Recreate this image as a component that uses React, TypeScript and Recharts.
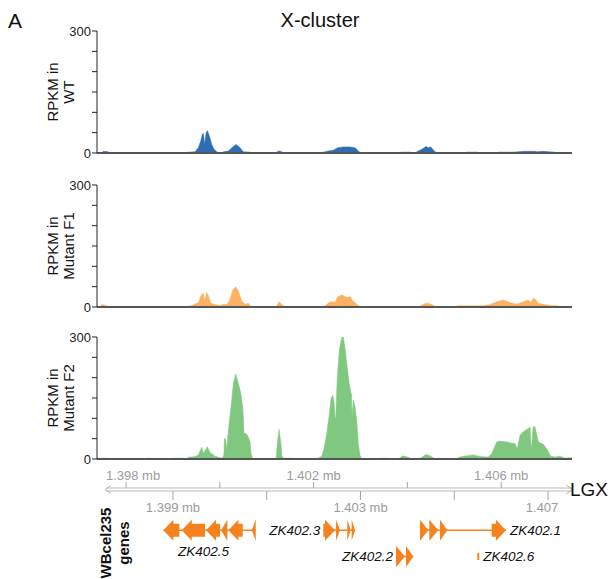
import React from 'react';
import {
  AreaChart,
  Area,
  ComposedChart,
  XAxis,
  YAxis,
  ReferenceLine,
  ReferenceArea,
  ReferenceDot,
} from 'recharts';

const FONT = '"Liberation Sans", Arial, Helvetica, sans-serif';

// visible window on chr X, in kb
const viewRange: [number, number] = [1397.38, 1407.51];
const rpkmTicks = [0, 50, 100, 150, 200, 250, 300];

// [position kb, RPKM]
const wtCoverage: [number, number][] = [
  [1397.38, 0], [1397.499, 0], [1397.51, 4], [1397.616, 3], [1397.659, 0],
  [1399.301, 0], [1399.307, 2], [1399.471, 3], [1399.542, 13], [1399.593, 30], [1399.627, 46], [1399.648, 48],
  [1399.678, 21], [1399.706, 50], [1399.734, 55], [1399.776, 42], [1399.827, 21], [1399.876, 9], [1399.934, 3], [1399.989, 0],
  [1400.058, 0], [1400.075, 3], [1400.181, 5], [1400.275, 15], [1400.345, 21], [1400.416, 15], [1400.501, 3], [1400.644, 2], [1400.655, 0],
  [1401.209, 0], [1401.22, 3], [1401.269, 5], [1401.341, 2], [1401.358, 0],
  [1402.194, 0], [1402.2, 2], [1402.313, 5], [1402.42, 7], [1402.514, 13], [1402.633, 15], [1402.776, 15], [1402.883, 13], [1402.953, 5], [1403.004, 0],
  [1403.853, 0], [1403.857, 2], [1404.07, 2], [1404.087, 0],
  [1404.194, 0], [1404.198, 3], [1404.305, 9], [1404.397, 16], [1404.446, 13], [1404.497, 15], [1404.589, 3], [1404.646, 0],
  [1405.239, 0], [1405.249, 2], [1405.505, 2], [1405.516, 0],
  [1405.921, 0], [1405.932, 2], [1406.23, 2], [1406.507, 4], [1406.721, 4], [1406.763, 3], [1406.891, 4], [1407.147, 2], [1407.157, 0],
  [1407.51, 0],
];

const f1Coverage: [number, number][] = [
  [1397.38, 0], [1397.446, 0], [1397.482, 6], [1397.531, 5], [1397.588, 3], [1397.606, 0],
  [1399.294, 0], [1399.435, 5], [1399.542, 11], [1399.614, 32], [1399.648, 33], [1399.678, 15], [1399.721, 36], [1399.755, 28],
  [1399.806, 9], [1399.898, 6], [1400.004, 3], [1400.075, 7], [1400.147, 6], [1400.203, 15], [1400.275, 41], [1400.339, 50],
  [1400.394, 40], [1400.467, 15], [1400.537, 7], [1400.608, 9], [1400.659, 1], [1400.676, 0],
  [1401.198, 0], [1401.262, 13], [1401.32, 7], [1401.375, 0],
  [1402.136, 0], [1402.243, 3], [1402.35, 13], [1402.456, 12], [1402.505, 24], [1402.599, 30], [1402.67, 25], [1402.74, 24],
  [1402.791, 25], [1402.834, 15], [1402.883, 11], [1402.953, 3], [1403.004, 0],
  [1404.233, 0], [1404.339, 7], [1404.425, 10], [1404.518, 6], [1404.625, 0],
  [1405.057, 0], [1405.064, 3], [1405.618, 3], [1405.761, 6], [1405.904, 13], [1406.045, 17], [1406.188, 11], [1406.331, 7],
  [1406.471, 13], [1406.578, 17], [1406.635, 11], [1406.684, 22], [1406.742, 17], [1406.791, 9], [1406.934, 6], [1407.077, 3],
  [1407.218, 3], [1407.233, 0],
  [1407.51, 0],
];

const f2Coverage: [number, number][] = [
  [1397.38, 0], [1397.446, 0], [1397.482, 2], [1397.623, 2], [1397.648, 0],
  [1398.416, 0], [1398.426, 2], [1398.548, 2], [1398.565, 0],
  [1398.981, 0], [1399.002, 2], [1399.209, 2], [1399.237, 0],
  [1399.294, 0], [1399.322, 4], [1399.471, 6], [1399.542, 10], [1399.614, 29], [1399.648, 14], [1399.734, 30], [1399.791, 16],
  [1399.898, 7], [1400.004, 3], [1400.055, 2], [1400.085, 10], [1400.1, 51], [1400.128, 47], [1400.147, 22], [1400.181, 71],
  [1400.239, 129], [1400.288, 186], [1400.339, 209], [1400.394, 186], [1400.446, 162], [1400.488, 129], [1400.501, 100],
  [1400.516, 63], [1400.552, 63], [1400.586, 59], [1400.644, 43], [1400.665, 13], [1400.702, 0],
  [1401.198, 0], [1401.226, 39], [1401.262, 73], [1401.298, 43], [1401.326, 6], [1401.369, 2], [1401.533, 2], [1401.55, 0],
  [1401.994, 0], [1402.094, 2], [1402.173, 7], [1402.222, 26], [1402.279, 63], [1402.335, 112], [1402.371, 149], [1402.407, 157],
  [1402.435, 141], [1402.456, 104], [1402.471, 99], [1402.493, 170], [1402.505, 202], [1402.548, 268], [1402.599, 299],
  [1402.633, 300], [1402.67, 272], [1402.706, 235], [1402.755, 190], [1402.791, 165], [1402.808, 160], [1402.819, 104],
  [1402.847, 145], [1402.883, 128], [1402.919, 95], [1402.953, 38], [1402.989, 9], [1403.026, 0],
  [1403.394, 0], [1403.401, 2], [1403.614, 2], [1403.629, 0],
  [1403.806, 0], [1403.9, 8], [1404.019, 4], [1404.077, 1], [1404.126, 0],
  [1404.226, 0], [1404.29, 3], [1404.397, 11], [1404.482, 8], [1404.589, 0],
  [1405.026, 0], [1405.051, 2], [1405.158, 6], [1405.271, 8], [1405.405, 10], [1405.548, 6], [1405.725, 5], [1405.797, 13],
  [1405.904, 42], [1405.974, 44], [1406.117, 42], [1406.224, 39], [1406.294, 38], [1406.343, 25], [1406.401, 58], [1406.471, 67],
  [1406.578, 75], [1406.614, 79], [1406.642, 23], [1406.684, 79], [1406.721, 79], [1406.791, 42], [1406.898, 36], [1406.97, 25],
  [1407.056, 7], [1407.147, 5], [1407.254, 7], [1407.36, 2], [1407.467, 3], [1407.51, 3],
];

// genome axis
const axisStartKb = 1397.552;
const axisEndKb = 1407.53;
const axisTicksKb = [1398, 1399, 1400, 1401, 1402, 1403, 1404, 1405, 1406, 1407];
const axisTickLabels: Record<number, string> = {
  1398: '1.398 mb',
  1399: '1.399 mb',
  1402: '1.402 mb',
  1403: '1.403 mb',
  1406: '1.406 mb',
  1407: '1.407',
};

// WBcel235 gene models (exon start/end in kb)
const geneNames = ['ZK402.5', 'ZK402.3', 'ZK402.1', 'ZK402.2', 'ZK402.6'];
const geneStrands = ['-', '+', '+', '+', '+'];
const geneRows = [0, 0, 0, 1, 1];
const geneExons: [number, number][][] = [
  [[1398.795, 1399.136], [1399.188, 1399.684], [1399.706, 1400.004], [1400.026, 1400.16], [1400.181, 1400.488], [1400.68, 1400.765]],
  [[1402.207, 1402.456], [1402.478, 1402.563], [1402.718, 1402.791], [1402.812, 1402.883]],
  [[1404.269, 1404.446], [1404.467, 1404.659], [1404.695, 1404.851], [1405.797, 1406.102]],
  [[1403.757, 1403.949], [1403.97, 1404.126]],
  [[1405.49, 1405.533]],
];

// layout (px inside the bottom track chart)
const GENE_COLOR = '#f5821f';
const AXIS_GRAY = '#a6a6a6';
const LANE_CENTER = [70.3, 96.5];
const EXON_H = 21;
const labelSide: Record<string, 'left' | 'right' | 'below'> = {
  'ZK402.5': 'below',
  'ZK402.3': 'left',
  'ZK402.1': 'right',
  'ZK402.2': 'left',
  'ZK402.6': 'right',
};
const tickLabelShift: Record<number, number> = { 1398: 7, 1407: -6 };

const tracks = [
  { id: 'wt', lines: ['RPKM in', 'WT'], coverage: wtCoverage, color: '#2d6db4', top: 21 },
  { id: 'f1', lines: ['RPKM in', 'Mutant F1'], coverage: f1Coverage, color: '#fdb263', top: 175 },
  { id: 'f2', lines: ['RPKM in', 'Mutant F2'], coverage: f2Coverage, color: '#80c77f', top: 327 },
];

const rotatedLabel = (lines: string[], baseX: number, gap: number, fontSize: number, bold: boolean, centerY?: number) =>
  (props: any) => {
    const vb = props.viewBox || { x: 0, y: 0, width: 0, height: 0 };
    const cy = centerY !== undefined ? centerY : vb.y + vb.height / 2;
    const x = vb.x + baseX;
    return (
      <text
        x={x}
        y={cy}
        transform={`rotate(-90, ${x}, ${cy})`}
        textAnchor="middle"
        fontSize={fontSize}
        fontWeight={bold ? 'bold' : 'normal'}
        fontFamily={FONT}
        fill="#111"
      >
        {lines.map((line, i) => (
          <tspan key={line} x={x} dy={i === 0 ? 0 : gap}>
            {line}
          </tspan>
        ))}
      </text>
    );
  };

function CoverageTrack({ coverage, color, lines, top }: { coverage: [number, number][]; color: string; lines: string[]; top: number }) {
  const data = coverage.map(([pos, rpkm]) => ({ pos, rpkm }));
  return (
    <div style={{ position: 'absolute', left: 0, top }}>
      <AreaChart width={611} height={143} data={data} margin={{ top: 10, right: 39, bottom: 10, left: 0 }}>
        <XAxis
          dataKey="pos"
          type="number"
          domain={viewRange}
          allowDataOverflow
          height={1}
          tick={false}
          tickLine={false}
          axisLine={{ stroke: '#555', strokeWidth: 2 }}
        />
        <YAxis
          type="number"
          domain={[0, 300]}
          allowDataOverflow
          ticks={rpkmTicks}
          interval={0}
          width={97}
          tickSize={5}
          tickMargin={1}
          tickFormatter={(v: number) => (v === 0 || v === 300 ? String(v) : '')}
          axisLine={{ stroke: '#222' }}
          tickLine={{ stroke: '#222' }}
          tick={{ fontSize: 13, fill: '#222', fontFamily: FONT }}
          label={rotatedLabel(lines, 58.3, 15.5, 15, false)}
        />
        <Area
          dataKey="rpkm"
          type="linear"
          stroke={color}
          strokeWidth={0.5}
          fill={color}
          fillOpacity={1}
          dot={false}
          activeDot={false}
          isAnimationActive={false}
        />
      </AreaChart>
    </div>
  );
}

const exonShape = (strand: string) => (props: any) => {
  const { x, y, width, height } = props;
  const yc = y + height / 2;
  if (width < 3) {
    return <rect x={x} y={yc - 3.5} width={Math.max(width, 2)} height={7} fill={GENE_COLOR} />;
  }
  const head = Math.min(10, width);
  const bh = height * 0.62;
  const pts =
    strand === '+'
      ? [
          [x, yc - bh / 2], [x + width - head, yc - bh / 2], [x + width - head, y], [x + width, yc],
          [x + width - head, y + height], [x + width - head, yc + bh / 2], [x, yc + bh / 2],
        ]
      : [
          [x + width, yc - bh / 2], [x + head, yc - bh / 2], [x + head, y], [x, yc],
          [x + head, y + height], [x + head, yc + bh / 2], [x + width, yc + bh / 2],
        ];
  return <polygon points={pts.map((p) => p.join(',')).join(' ')} fill={GENE_COLOR} />;
};

const axisArrow = (props: any) => {
  const { x1, y1, x2 } = props;
  const c = '#b8b8b8';
  return (
    <g stroke={c} strokeWidth={1} fill="none">
      <line x1={x1 + 1} y1={y1 - 1.5} x2={x2 - 1} y2={y1 - 1.5} />
      <line x1={x1 + 1} y1={y1 + 1.5} x2={x2 - 1} y2={y1 + 1.5} />
      <polyline points={`${x1 + 6},${y1 - 4} ${x1},${y1} ${x1 + 6},${y1 + 4}`} />
      <polyline points={`${x2 - 7},${y1 - 4.5} ${x2},${y1} ${x2 - 7},${y1 + 4.5}`} />
    </g>
  );
};

const tickLabelShape = (text: string, dx: number) => (p: any) => (
  <text x={p.cx + dx} y={p.cy} dy="0.35em" textAnchor="middle" fontSize={13} fill="#9b9b9b" fontFamily={FONT}>
    {text}
  </text>
);

const geneLabelShape = (name: string, side: 'left' | 'right' | 'below') => (p: any) => {
  let x = p.cx;
  let y = p.cy;
  let anchor: 'start' | 'end' | 'middle' = 'middle';
  if (side === 'left') {
    x -= 3;
    anchor = 'end';
  } else if (side === 'right') {
    x += 4;
    anchor = 'start';
  } else {
    x -= 6;
    y += 20.7;
  }
  return (
    <text x={x} y={y} dy="0.35em" textAnchor={anchor} fontSize={13.5} fontStyle="italic" fill="#111" fontFamily={FONT}>
      {name}
    </text>
  );
};

function GeneTrack() {
  const AXIS_Y = 29.5;
  const tickMarks = axisTicksKb.map((t) => {
    const up = t % 2 === 0;
    return (
      <ReferenceLine
        key={`tick-${t}`}
        segment={up ? [{ x: t, y: 22 }, { x: t, y: 28 }] : [{ x: t, y: 31 }, { x: t, y: 40 }]}
        stroke={AXIS_GRAY}
        strokeWidth={1}
        ifOverflow="visible"
      />
    );
  });
  const tickLabels = axisTicksKb
    .filter((t) => axisTickLabels[t])
    .map((t) => (
      <ReferenceDot
        key={`lab-${t}`}
        x={t}
        y={t % 2 === 0 ? 15 : 47}
        r={0}
        ifOverflow="visible"
        shape={tickLabelShape(axisTickLabels[t], tickLabelShift[t] || 0)}
      />
    ));
  const introns = geneNames
    .map((name, gi) => {
      const ex = geneExons[gi];
      if (ex.length < 2) return null;
      const yc = LANE_CENTER[geneRows[gi]];
      return (
        <ReferenceLine
          key={`intron-${name}`}
          segment={[{ x: ex[0][0], y: yc }, { x: ex[ex.length - 1][1], y: yc }]}
          stroke={GENE_COLOR}
          strokeWidth={1.5}
          ifOverflow="visible"
        />
      );
    })
    .filter(Boolean);
  const exons = geneNames.flatMap((name, gi) =>
    geneExons[gi].map(([s, e], ei) => {
      const yc = LANE_CENTER[geneRows[gi]];
      return (
        <ReferenceArea
          key={`exon-${name}-${ei}`}
          x1={s}
          x2={e}
          y1={yc - EXON_H / 2}
          y2={yc + EXON_H / 2}
          ifOverflow="visible"
          shape={exonShape(geneStrands[gi])}
        />
      );
    }),
  );
  const geneLabels = geneNames.map((name, gi) => {
    const ex = geneExons[gi];
    const side = labelSide[name];
    const start = ex[0][0];
    const end = ex[ex.length - 1][1];
    const x = side === 'left' ? start : side === 'right' ? end : (start + end) / 2;
    return (
      <ReferenceDot
        key={`glab-${name}`}
        x={x}
        y={LANE_CENTER[geneRows[gi]]}
        r={0}
        ifOverflow="visible"
        shape={geneLabelShape(name, side)}
      />
    );
  });

  return (
    <div style={{ position: 'absolute', left: 0, top: 460 }}>
      <ComposedChart
        width={611}
        height={119}
        data={axisTicksKb.map((pos) => ({ pos }))}
        margin={{ top: 0, right: 39, bottom: 0, left: 0 }}
      >
        <XAxis dataKey="pos" type="number" domain={viewRange} allowDataOverflow hide />
        <YAxis
          type="number"
          domain={[0, 119]}
          reversed
          allowDataOverflow
          width={97}
          axisLine={false}
          tickLine={false}
          tick={false}
          label={rotatedLabel(['WBcel235', 'genes'], 111, 18, 15, true, 83)}
        />
        <ReferenceLine
          segment={[{ x: axisStartKb, y: AXIS_Y }, { x: axisEndKb, y: AXIS_Y }]}
          ifOverflow="visible"
          shape={axisArrow}
        />
        {tickMarks}
        {tickLabels}
        {introns}
        {exons}
        {geneLabels}
      </ComposedChart>
    </div>
  );
}

export default function App() {
  return (
    <div
      style={{
        position: 'absolute',
        left: 0,
        top: 0,
        width: 611,
        height: 579,
        overflow: 'hidden',
        background: '#fff',
        fontFamily: FONT,
      }}
    >
      <div style={{ position: 'absolute', left: 8, top: 10, fontSize: 21, lineHeight: '21px', color: '#111' }}>A</div>
      <div
        style={{
          position: 'absolute',
          left: 220,
          top: 10,
          width: 200,
          textAlign: 'center',
          fontSize: 20,
          lineHeight: '20px',
          color: '#111',
        }}
      >
        X-cluster
      </div>
      {tracks.map((t) => (
        <CoverageTrack key={t.id} coverage={t.coverage} color={t.color} lines={t.lines} top={t.top} />
      ))}
      <GeneTrack />
      <div style={{ position: 'absolute', left: 570, top: 480, fontSize: 19, lineHeight: '19px', color: '#111' }}>LGX</div>
    </div>
  );
}
